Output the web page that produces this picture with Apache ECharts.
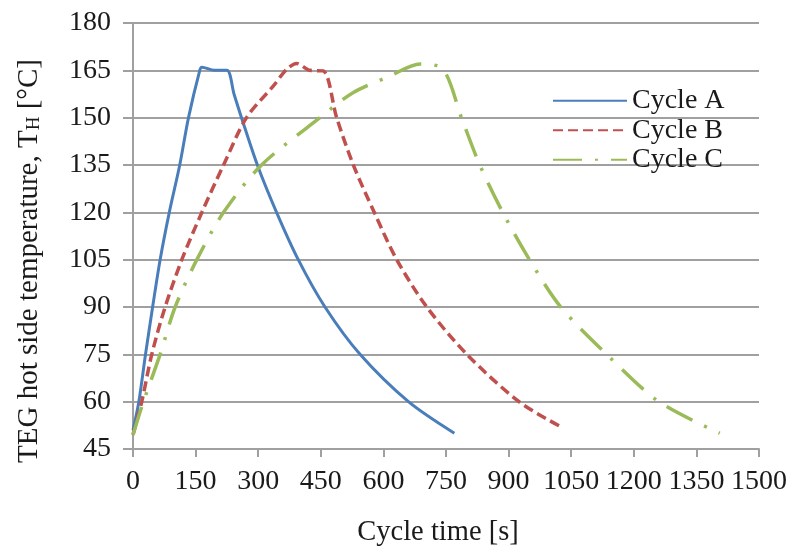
<!DOCTYPE html>
<html>
<head>
<meta charset="utf-8">
<script src="https://cdn.jsdelivr.net/npm/echarts@6/dist/echarts.min.js"></script>
<style>
html,body{margin:0;padding:0;background:#fff;}
#chart{width:791px;height:552px;}
</style>
</head>
<body>
<div id="chart"></div>
<script>
// ---- data ----
const seriesNames = ['Cycle A', 'Cycle B', 'Cycle C'];

const timeA = [0, 14, 30, 47, 65, 87, 112, 133, 160, 165, 195, 225, 242, 260, 298, 344, 396, 460, 544, 660, 770];
const tempA = [51, 60, 75, 90, 105, 120, 135, 150, 165, 166, 165, 165, 157.5, 150, 135, 120, 105, 90, 75, 60, 50];

const timeB = [0, 21, 45, 77, 117, 165, 217, 272, 336, 368, 392, 424, 456, 488, 528, 578, 632, 704, 800, 925, 1023];
const tempB = [49.5, 60, 75, 90, 105, 120, 135, 150, 160, 165.3, 167.2, 165, 164.8, 150, 135, 120, 105, 90, 75, 60, 52.2];

const timeC = [0, 25, 65, 101, 153, 217, 308, 448, 528, 616, 688, 743, 787, 831, 886, 950, 1025, 1135, 1260, 1406];
const tempC = [49.5, 60, 75, 90, 105, 120, 135, 150, 158, 163.2, 167, 165.3, 150, 135, 120, 105, 90, 75, 60, 50];

const xTicks = {min: 0, max: 1500, interval: 150};
const yTicks = {min: 45, max: 180, interval: 15};

function pairs(xs, ys) { return xs.map((x, i) => [x, ys[i]]); }

const FONT = "'Liberation Serif', 'Times New Roman', serif";
const TXT = '#1a1a1a';
const GRID = '#a0a0a0';
const chart = echarts.init(document.getElementById('chart'), null, {renderer: 'canvas'});

chart.setOption({
  animation: false,
  backgroundColor: '#ffffff',
  textStyle: {fontFamily: FONT, color: TXT},
  grid: {left: 133, right: 32, top: 23, bottom: 98, containLabel: false},
  legend: {
    orient: 'vertical',
    left: 547,
    top: 81,
    itemWidth: 74,
    itemHeight: 14,
    itemGap: 0,
    itemStyle: {opacity: 0},
    textStyle: {fontFamily: FONT, fontSize: 28, color: TXT, lineHeight: 29.5},
    data: seriesNames
  },
  xAxis: {
    type: 'value',
    min: xTicks.min, max: xTicks.max, interval: xTicks.interval,
    name: 'Cycle time [s]',
    nameLocation: 'middle',
    nameGap: 69,
    nameTextStyle: {fontFamily: FONT, fontSize: 28.5, color: TXT, padding: [0, 16, 0, 0]},
    axisLine: {show: true, lineStyle: {color: GRID, width: 2}},
    axisTick: {show: true, inside: false, length: 8, lineStyle: {color: GRID, width: 2}},
    axisLabel: {fontFamily: FONT, fontSize: 28, color: TXT, margin: 19, formatter: v => String(v)},
    splitLine: {show: false}
  },
  yAxis: {
    type: 'value',
    min: yTicks.min, max: yTicks.max, interval: yTicks.interval,
    name: '{a|TEG hot side temperature, T}{s|H}{a| [°C]}',
    nameLocation: 'middle',
    nameGap: 89,
    nameRotate: 90,
    nameTextStyle: {
      fontFamily: FONT, fontSize: 29, color: TXT, padding: [0, 50, 0, 0],
      rich: {
        a: {fontFamily: FONT, fontSize: 29, color: TXT},
        s: {fontFamily: FONT, fontSize: 19, color: TXT, padding: [9, 0, 0, 0]}
      }
    },
    axisLine: {show: true, lineStyle: {color: GRID, width: 2}},
    axisTick: {show: true, inside: false, length: 10, lineStyle: {color: GRID, width: 2}},
    axisLabel: {fontFamily: FONT, fontSize: 28, color: TXT, margin: 22, formatter: v => String(v)},
    splitLine: {show: true, lineStyle: {color: GRID, width: 2}}
  },
  series: [
    {
      name: seriesNames[0], type: 'line', data: pairs(timeA, tempA),
      symbol: 'none', smooth: 0.3,
      lineStyle: {color: '#4a7ebb', width: 3, type: 'solid'},
      itemStyle: {color: '#4a7ebb'}
    },
    {
      name: seriesNames[1], type: 'line', data: pairs(timeB, tempB),
      symbol: 'none', smooth: 0.3,
      lineStyle: {color: '#c0504d', width: 3.5, type: [10, 5], cap: 'butt'},
      itemStyle: {color: '#c0504d'}
    },
    {
      name: seriesNames[2], type: 'line', data: pairs(timeC, tempC),
      symbol: 'none', smooth: 0.3,
      lineStyle: {color: '#9bbb59', width: 3.5, type: [29, 13, 3, 13], cap: 'butt'},
      itemStyle: {color: '#9bbb59'}
    }
  ]
});
</script>
</body>
</html>
